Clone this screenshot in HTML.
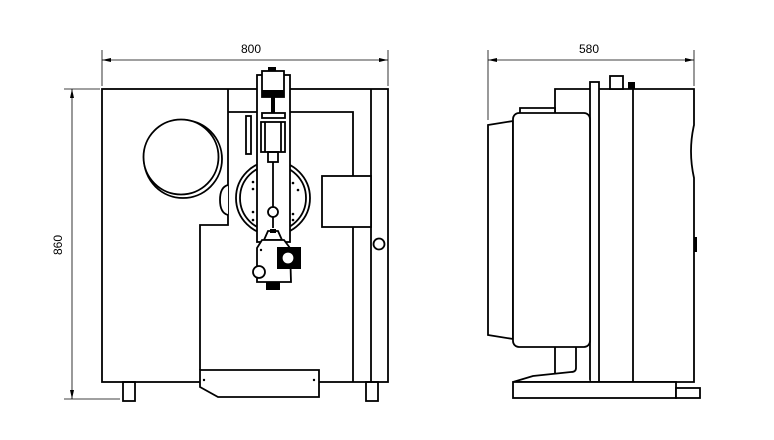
<!DOCTYPE html>
<html><head><style>body{margin:0;background:#fff}svg{display:block}</style></head><body>
<svg width="774" height="440" viewBox="0 0 774 440" xmlns="http://www.w3.org/2000/svg" font-family="Liberation Sans, sans-serif">
<g fill="none" stroke="#000" stroke-width="1.8">
<!-- front view -->
<rect x="102" y="89" width="286" height="293" fill="#fff"/>
<line x1="371" y1="89" x2="371" y2="382"/>
<polyline points="353,382 353,112 228,112"/>
<polyline points="228,89 228,225 200,225 200,370"/>
<path d="M228,185 Q220,187 220,200 Q220,213 228,215" fill="#fff"/>
<circle cx="183" cy="159" r="39"/>
<circle cx="181" cy="157" r="37.5" fill="#fff"/>
<rect x="246" y="116" width="5" height="38"/>
<circle cx="273" cy="198" r="37" fill="#fff"/>
<circle cx="273" cy="198" r="33"/>
<rect x="322" y="176" width="49" height="51" fill="#fff"/>
<circle cx="379" cy="244" r="5.5" fill="#fff"/>
<rect x="257" y="75" width="33" height="167" fill="#fff"/>
<rect x="262" y="71" width="22" height="26" fill="#fff"/>
<rect x="262" y="113" width="23" height="5"/>
<rect x="261" y="122" width="24" height="30"/>
<line x1="265" y1="122" x2="265" y2="152"/><line x1="281" y1="122" x2="281" y2="152"/>
<rect x="268" y="152" width="10" height="10"/>
<line x1="273" y1="162" x2="273" y2="207"/>
<circle cx="273" cy="212" r="5"/>
<line x1="273" y1="217" x2="273" y2="228"/>
<polygon points="264,240 268,231 278,231 282,240" fill="#fff"/>
<polygon points="257,248 262,240 284,240 290,248 291,282 257,282" fill="#fff"/>
<circle cx="259" cy="272" r="6" fill="#fff"/>
<polygon points="200,370 319,370 319,397 218,397 200,387" fill="#fff"/>
<rect x="123" y="382" width="12" height="19"/>
<rect x="366" y="382" width="12" height="19"/>
</g>
<g fill="#000">
<rect x="268" y="67" width="8" height="4"/>
<rect x="262" y="90" width="22" height="7"/>
<rect x="271" y="97" width="4" height="16"/>
<rect x="270" y="229" width="6" height="4"/>
<rect x="277" y="247" width="24" height="22"/>
<rect x="266" y="282" width="14" height="8"/>
<circle cx="253" cy="182" r="1.3"/><circle cx="253" cy="189" r="1.3"/><circle cx="253" cy="212" r="1.3"/><circle cx="253" cy="220" r="1.3"/>
<circle cx="293" cy="183" r="1.3"/><circle cx="298" cy="190" r="1.3"/><circle cx="293" cy="214" r="1.3"/><circle cx="293" cy="220" r="1.3"/>
<circle cx="261" cy="250" r="1.2"/>
<circle cx="204" cy="380" r="1.2"/><circle cx="314" cy="380" r="1.2"/>
</g>
<circle cx="288" cy="258" r="6" fill="#fff" stroke="#000" stroke-width="1.2"/>
<!-- side view -->
<g fill="#fff" stroke="#000" stroke-width="1.8">
<path d="M555,89 L694,89 L694,125 Q688,151 694,178 L694,382 L555,382 Z"/>
<rect x="610" y="76" width="13" height="13"/>
<rect x="590" y="82" width="9" height="300"/>
<line x1="633" y1="89" x2="633" y2="382"/>
<polyline points="520,113 520,108 555,108 555,113" />
<polygon points="488,125 513,121 513,339 488,335"/>
<rect x="513" y="113" width="77" height="234" rx="6"/>
<path d="M576,347 L576,368 Q576,372 571,372 L533,376 L513,382 L590,382"/>
<rect x="513" y="382" width="163" height="16"/>
<rect x="676" y="388" width="24" height="10"/>
</g>
<g fill="#000"><rect x="628" y="82" width="7" height="7"/><rect x="694" y="237" width="3" height="15"/></g>
<!-- dimensions -->
<g stroke="#000" stroke-width="0.8" fill="none">
<line x1="102" y1="60" x2="388" y2="60"/>
<line x1="102" y1="50" x2="102" y2="86"/><line x1="388" y1="50" x2="388" y2="86"/>
<line x1="72" y1="89" x2="72" y2="399"/>
<line x1="64" y1="89" x2="100" y2="89"/><line x1="64" y1="399" x2="120" y2="399"/>
<line x1="488" y1="60" x2="694" y2="60"/>
<line x1="488" y1="50" x2="488" y2="120"/><line x1="694" y1="50" x2="694" y2="86"/>
</g>
<g fill="#000">
<polygon points="102,60 111,58 111,62"/><polygon points="388,60 379,58 379,62"/>
<polygon points="72,89 70,98 74,98"/><polygon points="72,399 70,390 74,390"/>
<polygon points="488,60 497,58 497,62"/><polygon points="694,60 685,58 685,62"/>
</g>
<g font-size="12" fill="#000" text-anchor="middle">
<text x="251" y="53">800</text>
<text x="589" y="53">580</text>
<text x="0" y="0" transform="translate(62,245) rotate(-90)">860</text>
</g>
</svg>
</body></html>
